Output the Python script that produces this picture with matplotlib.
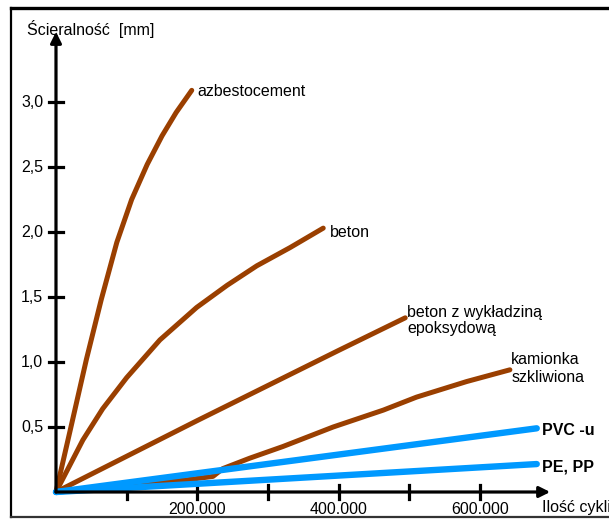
import matplotlib
matplotlib.use('Agg')
import matplotlib.pyplot as plt
from matplotlib.lines import Line2D

plt.rcParams['font.family'] = ['Liberation Sans', 'DejaVu Sans']

# dane (x - ilość cykli, y - ścieralność w mm)
azbest_x = [0, 22000, 43000, 64000, 86000, 107000, 129000, 150000, 170000, 192000]
azbest_y = [0, 0.52, 1.02, 1.48, 1.92, 2.25, 2.52, 2.74, 2.92, 3.09]

beton_x = [0, 38000, 66000, 100000, 147000, 199000, 242000, 284000, 331000, 378000]
beton_y = [0, 0.40, 0.64, 0.88, 1.17, 1.42, 1.59, 1.74, 1.88, 2.03]

epoksyd_x = [0, 200000, 400000, 494000]
epoksyd_y = [0, 0.55, 1.09, 1.34]

kamionka_x = [0, 86000, 180000, 222000, 236000, 274000, 321000, 392000, 463000, 510000, 581000, 642000]
kamionka_y = [0, 0.05, 0.09, 0.12, 0.18, 0.26, 0.35, 0.50, 0.63, 0.73, 0.85, 0.94]

pvc_x = [0, 680000]
pvc_y = [0, 0.49]

pe_x = [0, 680000]
pe_y = [0, 0.215]

y_ticks = [0.5, 1.0, 1.5, 2.0, 2.5, 3.0]
y_labels = ['0,5', '1,0', '1,5', '2,0', '2,5', '3,0']
x_ticks = [100000, 200000, 300000, 400000, 500000, 600000]
x_labels = {200000: '200.000', 400000: '400.000', 600000: '600.000'}

brown = '#9a3f00'
blue = '#0099ff'

fig = plt.figure(figsize=(6.09, 5.19), dpi=100)
ax = fig.add_axes([0, 0, 1, 1])
ax.set_xlim(-79200, 782200)
ax.set_ylim(-0.2077, 3.785)
ax.axis('off')

# osie ze strzałkami
ax.annotate('', xy=(0, 3.54), xytext=(0, 0),
            arrowprops=dict(arrowstyle='-|>', lw=2.3, color='k', mutation_scale=16, shrinkA=0, shrinkB=0))
ax.annotate('', xy=(699000, 0), xytext=(0, 0),
            arrowprops=dict(arrowstyle='-|>', lw=2.3, color='k', mutation_scale=16, shrinkA=0, shrinkB=0))

for t, lab in zip(y_ticks, y_labels):
    ax.plot([-9900, 9900], [t, t], color='k', lw=2.3)
    ax.text(-18000, t, lab, ha='right', va='center', fontsize=11.5)
for t in x_ticks:
    ax.plot([t, t], [-0.055, 0.055], color='k', lw=2.3)
    if t in x_labels:
        ax.text(t, -0.135, x_labels[t], ha='center', va='center', fontsize=11.5)

ax.text(-41000, 3.56, 'Ścieralność  [mm]', ha='left', va='center', fontsize=11.5)
ax.text(687000, -0.118, 'Ilość cykli', ha='left', va='center', fontsize=11.5)

# krzywe
for xs, ys in [(azbest_x, azbest_y), (beton_x, beton_y), (epoksyd_x, epoksyd_y), (kamionka_x, kamionka_y)]:
    ax.plot(xs, ys, color=brown, lw=3.6, solid_capstyle='round', solid_joinstyle='round')
ax.plot(pe_x, pe_y, color=blue, lw=4.6, solid_capstyle='round')
ax.plot(pvc_x, pvc_y, color=blue, lw=4.6, solid_capstyle='round')

# opisy
ax.text(azbest_x[-1] + 8000, azbest_y[-1] - 0.01, 'azbestocement', ha='left', va='center', fontsize=11.5)
ax.text(beton_x[-1] + 10000, beton_y[-1] - 0.03, 'beton', ha='left', va='center', fontsize=11.5)
ax.text(epoksyd_x[-1] + 3000, epoksyd_y[-1] + 0.04, 'beton z wykładziną', ha='left', va='center', fontsize=11.5)
ax.text(epoksyd_x[-1] + 3000, epoksyd_y[-1] - 0.08, 'epoksydową', ha='left', va='center', fontsize=11.5)
ax.text(kamionka_x[-1] + 2000, kamionka_y[-1] + 0.08, 'kamionka', ha='left', va='center', fontsize=11.5)
ax.text(kamionka_x[-1] + 2000, kamionka_y[-1] - 0.06, 'szkliwiona', ha='left', va='center', fontsize=11.5)
ax.text(pvc_x[-1] + 8000, pvc_y[-1] - 0.02, 'PVC -u', ha='left', va='center', fontsize=11.5, fontweight='bold')
ax.text(pe_x[-1] + 8000, pe_y[-1] - 0.02, 'PE, PP', ha='left', va='center', fontsize=11.5, fontweight='bold')

# ramka
W, H = 609, 519
fig.add_artist(Line2D([11 / W, 11 / W], [1 - 8 / H, 1 - 517 / H], color='k', lw=1.6, transform=fig.transFigure))
fig.add_artist(Line2D([11 / W, 1], [1 - 8 / H, 1 - 8 / H], color='k', lw=2.4, transform=fig.transFigure))
fig.add_artist(Line2D([11 / W, 1], [1 - 517 / H, 1 - 517 / H], color='#333333', lw=1.6, transform=fig.transFigure))

fig.savefig('out.png', dpi=100)
